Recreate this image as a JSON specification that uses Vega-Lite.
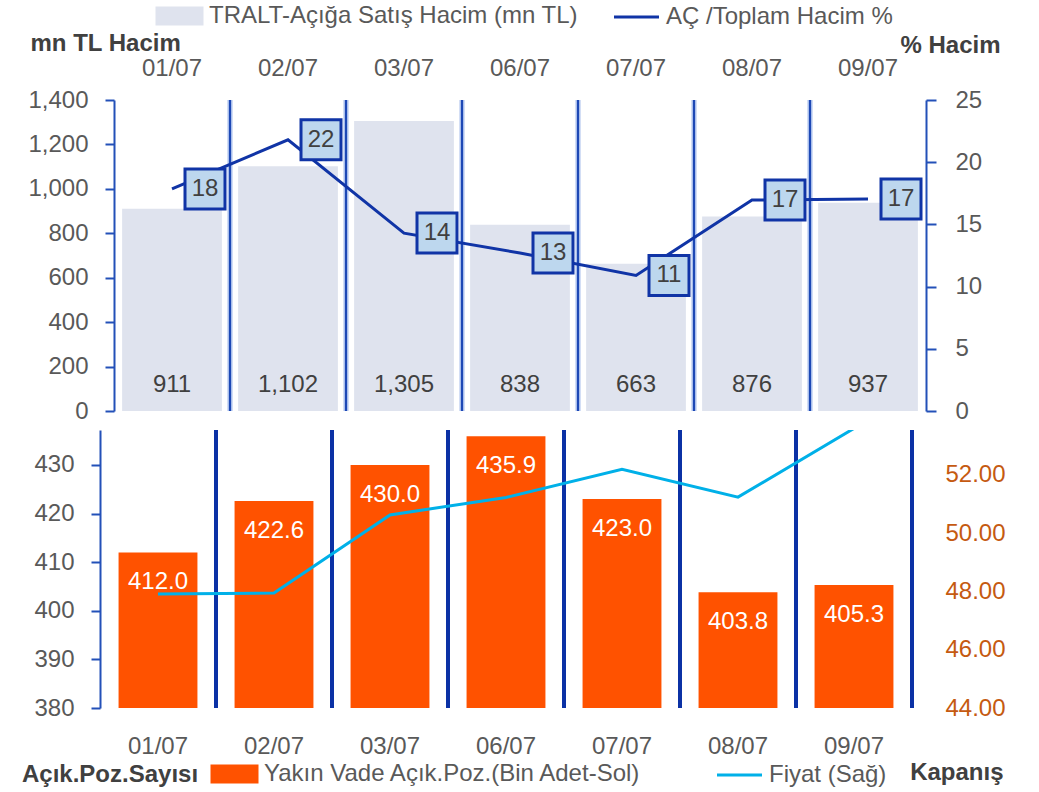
{
  "$schema": "https://vega.github.io/schema/vega-lite/v6.json",
  "padding": {"left": 22, "top": 4, "right": 5, "bottom": 3},
  "config": {
    "font": "Liberation Sans",
    "view": {"stroke": null},
    "axis": {"grid": false, "labelFontSize": 24, "labelColor": "#595959", "titleFontSize": 24, "titleColor": "#404040", "titleFontWeight": "bold"},
    "legend": {"labelFontSize": 24, "labelColor": "#595959", "labelLimit": 600}
  },
  "datasets": {
    "top": [
      {"date": "01/07", "hacim": 911, "oran": 17.85},
      {"date": "02/07", "hacim": 1102, "oran": 21.8},
      {"date": "03/07", "hacim": 1305, "oran": 14.3},
      {"date": "06/07", "hacim": 838, "oran": 12.7},
      {"date": "07/07", "hacim": 663, "oran": 10.9},
      {"date": "08/07", "hacim": 876, "oran": 16.96},
      {"date": "09/07", "hacim": 937, "oran": 17.04}
    ],
    "bottom": [
      {"date": "01/07", "poz": 412.0, "fiyat": 47.91},
      {"date": "02/07", "poz": 422.6, "fiyat": 47.95},
      {"date": "03/07", "poz": 430.0, "fiyat": 50.63},
      {"date": "06/07", "poz": 435.9, "fiyat": 51.23},
      {"date": "07/07", "poz": 423.0, "fiyat": 52.2},
      {"date": "08/07", "poz": 403.8, "fiyat": 51.24},
      {"date": "09/07", "poz": 405.3, "fiyat": 53.6}
    ]
  },
  "spacing": 5,
  "resolve": {"scale": {"color": "independent", "x": "independent"}, "legend": {"color": "independent"}},
  "vconcat": [
    {
      "width": 826,
      "height": 311,
      "data": {"name": "top"},
      "encoding": {
        "x": {"field": "date", "type": "ordinal", "sort": null,
          "scale": {"range": [14, 826], "paddingInner": 0, "paddingOuter": 0},
          "axis": {"orient": "top", "title": null, "domain": false, "ticks": false, "labelPadding": 20, "labelAngle": 0}}
      },
      "layer": [
        {
          "layer": [
            {
              "mark": {"type": "bar", "width": {"band": 0.86}},
              "encoding": {
                "y": {"field": "hacim", "type": "quantitative", "scale": {"domain": [0, 1400], "nice": false},
                  "axis": {"orient": "left", "offset": -14, "values": [0, 200, 400, 600, 800, 1000, 1200, 1400], "format": ",.0f",
                    "domainColor": "#2350B8", "domainWidth": 2, "tickColor": "#2350B8", "tickWidth": 2, "tickSize": 9, "labelPadding": 17,
                    "title": "mn TL Hacim", "titleAngle": 0, "titleAlign": "left", "titleBaseline": "middle", "titleX": -84, "titleY": -57}},
                "color": {"datum": "TRALT-Açığa Satış Hacim (mn TL)", "type": "nominal",
                  "scale": {"domain": ["TRALT-Açığa Satış Hacim (mn TL)", "AÇ /Toplam Hacim %"], "range": ["#DFE3EE", "#1034A6"]},
                  "legend": {"orient": "none", "legendX": 55, "legendY": -96, "direction": "horizontal", "title": null,
                    "symbolSize": 400, "columnPadding": 30, "labelOffset": 30, "symbolStrokeWidth": 3,
                    "encode": {"symbols": {"update": {
                      "shape": {"signal": "datum.value == 'AÇ /Toplam Hacim %' ? 'M-1,0H3.5' : 'M-1,-0.8H3.5V0.8H-1Z'"},
                      "fill": {"signal": "datum.value == 'AÇ /Toplam Hacim %' ? 'transparent' : '#DFE3EE'"},
                      "stroke": {"signal": "datum.value == 'AÇ /Toplam Hacim %' ? '#1034A6' : 'transparent'"},
                      "strokeWidth": {"value": 3}
                    }}}}
                }
              }
            },
            {
              "mark": {"type": "text", "dy": -26, "fontSize": 24, "color": "#404040", "baseline": "middle"},
              "encoding": {
                "y": {"datum": 0, "type": "quantitative"},
                "text": {"field": "hacim", "type": "quantitative", "format": ",.0f"}
              }
            },
            {
              "transform": [{"filter": "datum.date != '09/07'"}],
              "mark": {"type": "rule", "strokeWidth": 5, "color": "#A8BDEB"},
              "encoding": {"x": {"field": "date", "type": "ordinal", "sort": null, "bandPosition": 1}}
            },
            {
              "transform": [{"filter": "datum.date != '09/07'"}],
              "mark": {"type": "rule", "strokeWidth": 2, "color": "#1D48B5"},
              "encoding": {"x": {"field": "date", "type": "ordinal", "sort": null, "bandPosition": 1}}
            }
          ]
        },
        {
          "layer": [
            {
              "mark": {"type": "line", "strokeWidth": 3},
              "encoding": {
                "y": {"field": "oran", "type": "quantitative", "scale": {"domain": [0, 25], "nice": false},
                  "axis": {"orient": "right", "values": [0, 5, 10, 15, 20, 25],
                    "domainColor": "#2350B8", "domainWidth": 2, "tickColor": "#2350B8", "tickWidth": 2, "tickSize": 10, "labelPadding": 19,
                    "title": "% Hacim", "titleAngle": 0, "titleAlign": "right", "titleBaseline": "middle", "titleX": 74, "titleY": -55}},
                "color": {"datum": "AÇ /Toplam Hacim %", "type": "nominal"}
              }
            },
            {
              "mark": {"type": "point", "shape": "square", "size": 1600, "filled": true, "fill": "#BDD7EE", "stroke": "#1034A6", "strokeWidth": 3, "opacity": 1, "xOffset": 33},
              "encoding": {"y": {"field": "oran", "type": "quantitative"}}
            },
            {
              "mark": {"type": "text", "xOffset": 33, "fontSize": 24, "color": "#404040", "baseline": "middle"},
              "encoding": {
                "y": {"field": "oran", "type": "quantitative"},
                "text": {"field": "oran", "type": "quantitative", "format": ".0f"}
              }
            }
          ]
        }
      ],
      "resolve": {"scale": {"y": "independent"}}
    },
    {
      "width": 812,
      "height": 278,
      "data": {"name": "bottom"},
      "encoding": {
        "x": {"field": "date", "type": "ordinal", "sort": null,
          "scale": {"paddingInner": 0, "paddingOuter": 0},
          "axis": {"orient": "bottom", "title": null, "domain": false, "ticks": false, "labelPadding": 26, "labelAngle": 0}}
      },
      "layer": [
        {
          "layer": [
            {
              "mark": {"type": "bar", "width": {"band": 0.68}},
              "encoding": {
                "y": {"field": "poz", "type": "quantitative", "scale": {"domain": [380, 437.2], "nice": false, "zero": false},
                  "axis": {"orient": "left", "values": [380, 390, 400, 410, 420, 430],
                    "domainColor": "#2350B8", "domainWidth": 2, "tickColor": "#2350B8", "tickWidth": 2, "tickSize": 9, "labelPadding": 17, "title": null}},
                "y2": {"datum": 380},
                "color": {"datum": "Yakın Vade Açık.Poz.(Bin Adet-Sol)", "type": "nominal",
                  "scale": {"domain": ["Yakın Vade Açık.Poz.(Bin Adet-Sol)", "Fiyat (Sağ)"], "range": ["#FF5200", "#00B0E8"]},
                  "legend": {"orient": "none", "legendX": -78, "legendY": 332, "direction": "horizontal",
                    "title": "Açık.Poz.Sayısı", "titleOrient": "left", "titleFontSize": 24, "titleFontWeight": "bold", "titleColor": "#404040", "titlePadding": 11,
                    "symbolSize": 400, "columnPadding": 69, "labelOffset": 30, "symbolStrokeWidth": 3,
                    "encode": {"symbols": {"update": {
                      "shape": {"signal": "datum.value == 'Fiyat (Sağ)' ? 'M-1,0H3.5' : 'M-1,-0.8H3.5V0.8H-1Z'"},
                      "fill": {"signal": "datum.value == 'Fiyat (Sağ)' ? 'transparent' : '#FF5200'"},
                      "stroke": {"signal": "datum.value == 'Fiyat (Sağ)' ? '#00B0E8' : 'transparent'"},
                      "strokeWidth": {"value": 3}
                    }}}}
                }
              }
            },
            {
              "mark": {"type": "text", "dy": 30, "fontSize": 24, "color": "white", "baseline": "middle"},
              "encoding": {
                "y": {"field": "poz", "type": "quantitative"},
                "text": {"field": "poz", "type": "quantitative", "format": ".1f"}
              }
            },
            {
              "mark": {"type": "rule", "strokeWidth": 4, "color": "#0B31A5"},
              "encoding": {"x": {"field": "date", "type": "ordinal", "sort": null, "bandPosition": 1}}
            }
          ]
        },
        {
          "layer": [
            {
              "mark": {"type": "line", "strokeWidth": 3, "clip": true},
              "encoding": {
                "y": {"field": "fiyat", "type": "quantitative", "scale": {"domain": [44, 53.545], "nice": false, "zero": false},
                  "axis": {"orient": "right", "values": [44, 46, 48, 50, 52], "format": ".2f", "labelColor": "#C55A11",
                    "domain": false, "ticks": false, "labelPadding": 33,
                    "title": "Kapanış", "titleAngle": 0, "titleAlign": "right", "titleBaseline": "middle", "titleX": 91, "titleY": 342}},
                "color": {"datum": "Fiyat (Sağ)", "type": "nominal"}
              }
            }
          ]
        }
      ],
      "resolve": {"scale": {"y": "independent"}}
    }
  ]
}
